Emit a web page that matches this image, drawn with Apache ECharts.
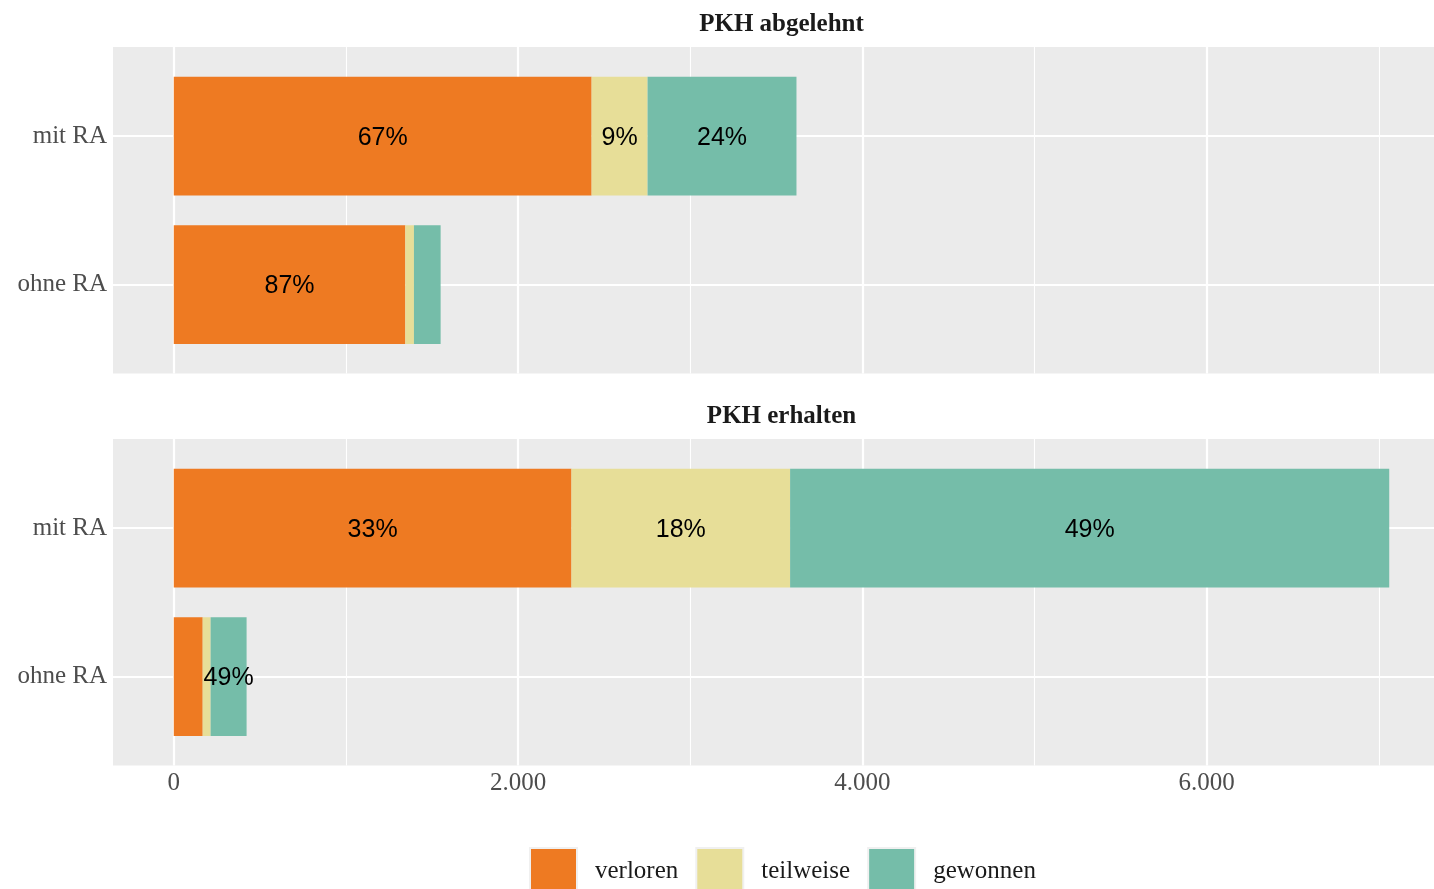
<!DOCTYPE html>
<html><head><meta charset="utf-8">
<script src="https://cdn.jsdelivr.net/npm/echarts@6/dist/echarts.min.js"></script>
<style>html,body{margin:0;padding:0;background:#fff}#c{width:1434px;height:889px}</style>
</head><body><div id="c"></div>
<script>
const categories = ['mit RA', 'ohne RA'];
const panelTitles = ['PKH abgelehnt', 'PKH erhalten'];
const outcomes = ['verloren', 'teilweise', 'gewonnen'];
const abgelehntVerloren = [2427, 1345];
const abgelehntTeilweise = [325, 50];
const abgelehntGewonnen = [865, 155];
const erhaltenVerloren = [2310, 168];
const erhaltenTeilweise = [1270, 46];
const erhaltenGewonnen = [3480, 209];
const xMajorTicks = [0, 2000, 4000, 6000];
const xMinorTicks = [1000, 3000, 5000, 7000];
const labelMinValue = 200;

const panelData = [
  [abgelehntVerloren, abgelehntTeilweise, abgelehntGewonnen],
  [erhaltenVerloren, erhaltenTeilweise, erhaltenGewonnen]
];
const colors = ['#EE7A22', '#E7DE98', '#75BDA9'];
const serif = '"Liberation Serif", "DejaVu Serif", serif';
const sans = '"Liberation Sans", Arial, sans-serif';

let maxTotal = 0;
const totals = panelData.map(p => categories.map((c, i) => {
  const t = p[0][i] + p[1][i] + p[2][i];
  maxTotal = Math.max(maxTotal, t);
  return t;
}));
// ggplot-style 5% expansion; the full panel runs past the right edge of the picture
const gridLeft = 113, fullPanelRight = 1450, canvasW = 1434;
const xMin = -0.05 * maxTotal, xMaxFull = 1.05 * maxTotal;
const xMax = xMin + (xMaxFull - xMin) * (canvasW - gridLeft) / (fullPanelRight - gridLeft);

const panelTop = [47, 439];
const panelH = 326.6;

const grids = [], xAxes = [], yAxes = [], series = [], graphics = [];
panelTop.forEach((top, p) => {
  const unit = panelH / 2.2;
  grids.push({left: gridLeft, right: 0, top: top, height: panelH, show: true,
    backgroundColor: '#EBEBEB', borderWidth: 0});
  grids.push({left: gridLeft, right: 0, top: top + 0.1 * unit, height: 2 * unit, show: false});
  const gBg = p * 2, gBar = p * 2 + 1;
  const isBottom = p === panelTop.length - 1;
  xAxes.push({type: 'value', gridIndex: gBg, min: xMin, max: xMax,
    axisLine: {show: false},
    axisTick: {show: false, customValues: xMajorTicks},
    axisLabel: {show: isBottom, customValues: xMajorTicks, margin: 5,
      color: '#4D4D4D', fontFamily: serif, fontSize: 25,
      formatter: v => v.toLocaleString('de-DE')},
    splitLine: {show: true, lineStyle: {color: '#FFFFFF', width: 2.2}}});
  xAxes.push({type: 'value', gridIndex: gBg, min: xMin, max: xMax,
    axisLine: {show: false},
    axisTick: {show: false, customValues: xMinorTicks},
    axisLabel: {show: false, customValues: xMinorTicks},
    splitLine: {show: true, lineStyle: {color: '#FFFFFF', width: 1.1}}});
  xAxes.push({type: 'value', gridIndex: gBar, min: xMin, max: xMax,
    axisLine: {show: false}, axisTick: {show: false}, axisLabel: {show: false}, splitLine: {show: false}});
  yAxes.push({type: 'value', gridIndex: gBg, min: 0.4, max: 2.6, inverse: true,
    axisLine: {show: false},
    axisTick: {show: false, customValues: [1, 2]},
    axisLabel: {show: false, customValues: [1, 2]},
    splitLine: {show: true, lineStyle: {color: '#FFFFFF', width: 2.2}}});
  yAxes.push({type: 'category', gridIndex: gBar, data: categories, inverse: true,
    axisLine: {show: false}, axisTick: {show: false}, splitLine: {show: false},
    axisLabel: {margin: 6, color: '#4D4D4D', fontFamily: serif, fontSize: 25, padding: [5, 0, 0, 0]}});

  outcomes.forEach((name, k) => {
    series.push({
      type: 'bar', name: name, stack: 'p' + p,
      xAxisIndex: p * 3 + 2, yAxisIndex: p * 2 + 1,
      barWidth: '80%',
      itemStyle: {color: colors[k]},
      data: panelData[p][k],
      label: {show: true, position: 'inside', color: '#000000', fontFamily: sans, fontSize: 25,
        offset: [0, 2],
        formatter: prm => prm.value >= labelMinValue
          ? Math.round(prm.value / totals[p][prm.dataIndex] * 100) + '%' : ''},
      z: 3
    });
  });

  graphics.push({type: 'text', x: (gridLeft + fullPanelRight) / 2, y: top - 22,
    style: {text: panelTitles[p], fill: '#1A1A1A', font: 'bold 25px ' + serif,
      align: 'center', verticalAlign: 'middle'}});
});

const chart = echarts.init(document.getElementById('c'), null, {renderer: 'canvas'});
chart.setOption({
  animation: false,
  backgroundColor: '#FFFFFF',
  grid: grids, xAxis: xAxes, yAxis: yAxes, series: series,
  graphic: graphics,
  legend: {
    data: outcomes, left: 524, top: 842, orient: 'horizontal',
    itemWidth: 47, itemHeight: 46, itemGap: 17, icon: 'rect', selectedMode: false,
    itemStyle: {borderColor: '#F0F0F0', borderWidth: 2},
    textStyle: {color: '#1A1A1A', fontFamily: serif, fontSize: 25, padding: [0, 0, 0, 13]}
  }
});
</script></body></html>
